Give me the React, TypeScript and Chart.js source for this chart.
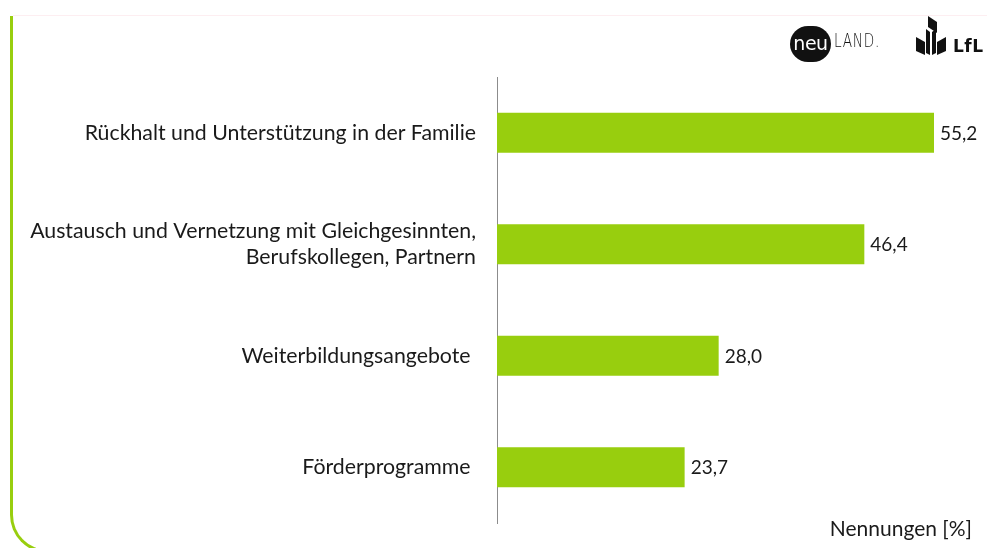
import React, { useEffect, useRef } from "react";
import { Chart, registerables } from "chart.js";

Chart.register(...registerables);

const categories: (string | string[])[] = [
  "Rückhalt und Unterstützung in der Familie",
  ["Austausch und Vernetzung mit Gleichgesinnten,", "Berufskollegen, Partnern"],
  "Weiterbildungsangebote ",
  "Förderprogramme ",
];
const values: number[] = [55.2, 46.4, 28.0, 23.7];
const axisTitle = "Nennungen [%]";

const GREEN = "#98ce0e";
const FONT = "Lato, 'Open Sans', sans-serif";

const valueLabels = {
  id: "valueLabels",
  afterDatasetsDraw(chart: any) {
    const ctx = chart.ctx;
    const meta = chart.getDatasetMeta(0);
    ctx.save();
    ctx.font = `19px ${FONT}`;
    ctx.fillStyle = "#1a1a1a";
    ctx.textAlign = "left";
    ctx.textBaseline = "middle";
    meta.data.forEach((bar: any, i: number) => {
      const v = chart.data.datasets[0].data[i] as number;
      ctx.fillText(v.toFixed(1).replace(".", ","), bar.x + 6, bar.y + 1);
    });
    ctx.restore();
  },
};

export default function App() {
  const ref = useRef<HTMLCanvasElement>(null);
  useEffect(() => {
    if (!ref.current) return;
    const chart = new Chart(ref.current, {
      type: "bar",
      data: {
        labels: categories,
        datasets: [
          {
            data: values,
            backgroundColor: GREEN,
            borderWidth: 0,
            barPercentage: 0.36,
            categoryPercentage: 1,
          },
        ],
      },
      options: {
        indexAxis: "y",
        animation: false,
        responsive: false,
        maintainAspectRatio: false,
        layout: { padding: { top: 77, bottom: 25, right: 15, left: 0 } },
        plugins: { legend: { display: false }, tooltip: { enabled: false } },
        scales: {
          x: { display: false, min: 0, max: 60 },
          y: {
            afterFit: (s: any) => {
              s.width = 497;
              s.paddingTop = 0;
              s.paddingBottom = 0;
            },
            grid: { display: false, drawTicks: false },
            border: { display: true, color: "#8c8c8c", width: 1 },
            ticks: {
              padding: 21,
              color: "#1a1a1a",
              font: { family: FONT, size: 21.3 },
            },
          },
        },
      },
      plugins: [valueLabels],
    });
    return () => chart.destroy();
  }, []);

  return (
    <div style={{ position: "fixed", left: 0, top: 0, width: 987, height: 548, background: "#fff", overflow: "hidden", fontFamily: FONT }}>
      <div style={{ position: "absolute", left: 13, top: 15, right: 0, height: 0, borderTop: "1px solid #fdeef1" }} />
      <div
        style={{
          position: "absolute",
          left: 10,
          top: 16,
          width: 200,
          height: 537,
          borderLeft: `3px solid ${GREEN}`,
          borderBottom: `3px solid ${GREEN}`,
          borderBottomLeftRadius: 38,
          boxSizing: "border-box",
        }}
      />
      <canvas ref={ref} width={987} height={548} style={{ position: "absolute", left: 0, top: 0 }} />
      <div style={{ position: "absolute", right: 15, top: 515, fontSize: 21, color: "#1a1a1a" }}>{axisTitle}</div>
      {/* logos */}
      <div style={{ position: "absolute", left: 790, top: 26, width: 41, height: 36, borderRadius: 18, background: "#111", color: "#fff", fontSize: 19, lineHeight: "34px", textAlign: "center", fontFamily: "'DejaVu Sans', sans-serif", letterSpacing: -0.5 }}>neu</div>
      <div style={{ position: "absolute", left: 834, top: 29, fontSize: 19, color: "#111", fontFamily: "'DejaVu Sans', sans-serif", fontWeight: 300, letterSpacing: 1, transform: "scaleX(0.72)", transformOrigin: "left" }}>LAND.</div>
      <svg style={{ position: "absolute", left: 912, top: 15 }} width={38} height={42} viewBox="0 0 32 42">
        <polygon points="1,22 10,27 10,40 1,36" fill="#111" />
        <polygon points="31,22 22,27 22,40 31,36" fill="#111" />
        <polygon points="11,14 15,17 15,40 11,38" fill="#111" />
        <polygon points="21,14 17,17 17,40 21,38" fill="#111" />
        <polygon points="13,1 22,7 22,18 13,12" fill="#111" />
      </svg>
      <div style={{ position: "absolute", left: 953, top: 36, fontSize: 17, fontWeight: 700, color: "#111", fontFamily: "'DejaVu Sans', sans-serif", letterSpacing: 0.5 }}>LfL</div>
    </div>
  );
}
